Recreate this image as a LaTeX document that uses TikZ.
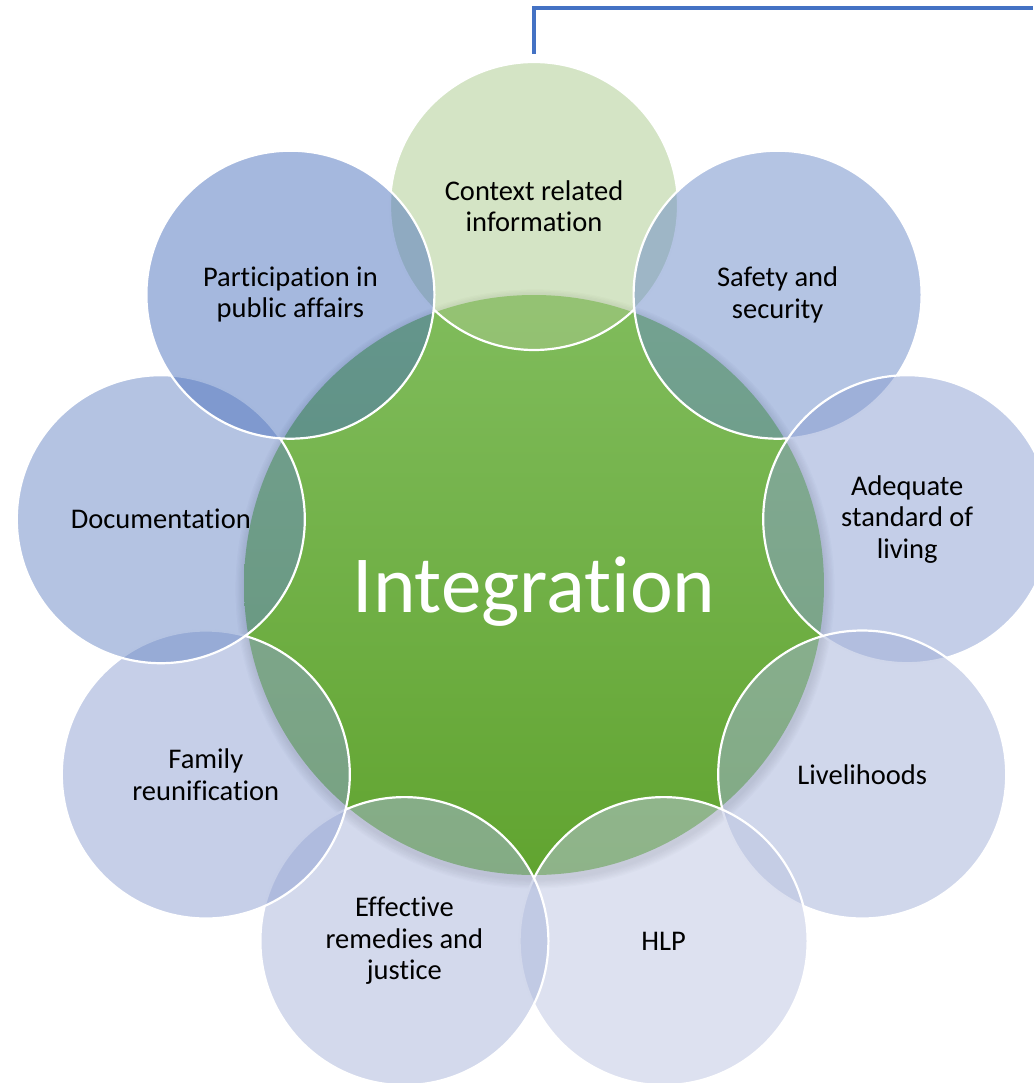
\documentclass[tikz,border=0pt]{standalone}
\usepackage{fontspec}
\setmainfont{Carlito}[Ligatures=NoCommon]
\definecolor{ctop}{RGB}{128,188,92}
\definecolor{cbot}{RGB}{97,164,48}
\definecolor{linkblue}{RGB}{68,114,196}
\definecolor{cctx}{RGB}{169,201,139}
\definecolor{csafe}{RGB}{105,137,199}
\definecolor{cadeq}{RGB}{137,157,209}
\definecolor{clive}{RGB}{161,175,215}
\definecolor{chlp}{RGB}{187,195,225}
\definecolor{ceff}{RGB}{167,179,217}
\definecolor{cfam}{RGB}{141,159,209}
\definecolor{cdoc}{RGB}{105,135,197}
\definecolor{cpart}{RGB}{75,113,189}
\tikzset{
  outer/.style={circle, minimum size=288pt, inner sep=0pt, fill opacity=0.5,
    draw=white, line width=2.2pt, text opacity=1, align=center,
    font=\fontsize{28.5}{31.5}\selectfont, text=black},
  hub/.style={circle, minimum size=580pt, inner sep=0pt, top color=ctop, bottom color=cbot},
  hubtext/.style={font=\fontsize{81}{90}\selectfont, text=white, anchor=base},
  link/.style={draw=linkblue, line width=4pt}
}
\begin{document}
\begin{tikzpicture}[x=1pt,y=-1pt]
\useasboundingbox (0,0) rectangle (1033,1083);
% soft shadow of the hub
\foreach \k in {1,...,8}{
  \fill[black, opacity=0.025] (535,589) circle ({290+\k*1.2});
}
\node[hub] (hub) at (534,585) {};
\node[hubtext] (hublabel) at (534,612) {Integration};
% outer circles, clockwise from the top
\node[outer, fill=cctx] (ctx) at (534,206) {Context related\\information};
\node[outer, fill=csafe] (safe) at (777.6,294.7) {Safety and\\security};
\node[outer, fill=cadeq] (adeq) at (907.2,519.2) {Adequate\\standard of\\living};
\node[outer, fill=clive] (live) at (862.2,774.5) {Livelihoods};
\node[outer, fill=chlp] (hlp) at (663.6,941.1) {HLP};
\node[outer, fill=ceff] (eff) at (404.4,941.1) {Effective\\remedies and\\justice};
\node[outer, fill=cfam] (fam) at (205.8,774.5) {Family\\reunification};
\node[outer, fill=cdoc] (doc) at (160.8,519.2) {Documentation};
\node[outer, fill=cpart] (part) at (290.4,294.7) {Participation in\\public affairs};
% connector line at the top
\coordinate (la) at (534,54);
\coordinate (lc) at (1033,8);
\draw[link] (la) |- (lc);
\end{tikzpicture}
\end{document}
